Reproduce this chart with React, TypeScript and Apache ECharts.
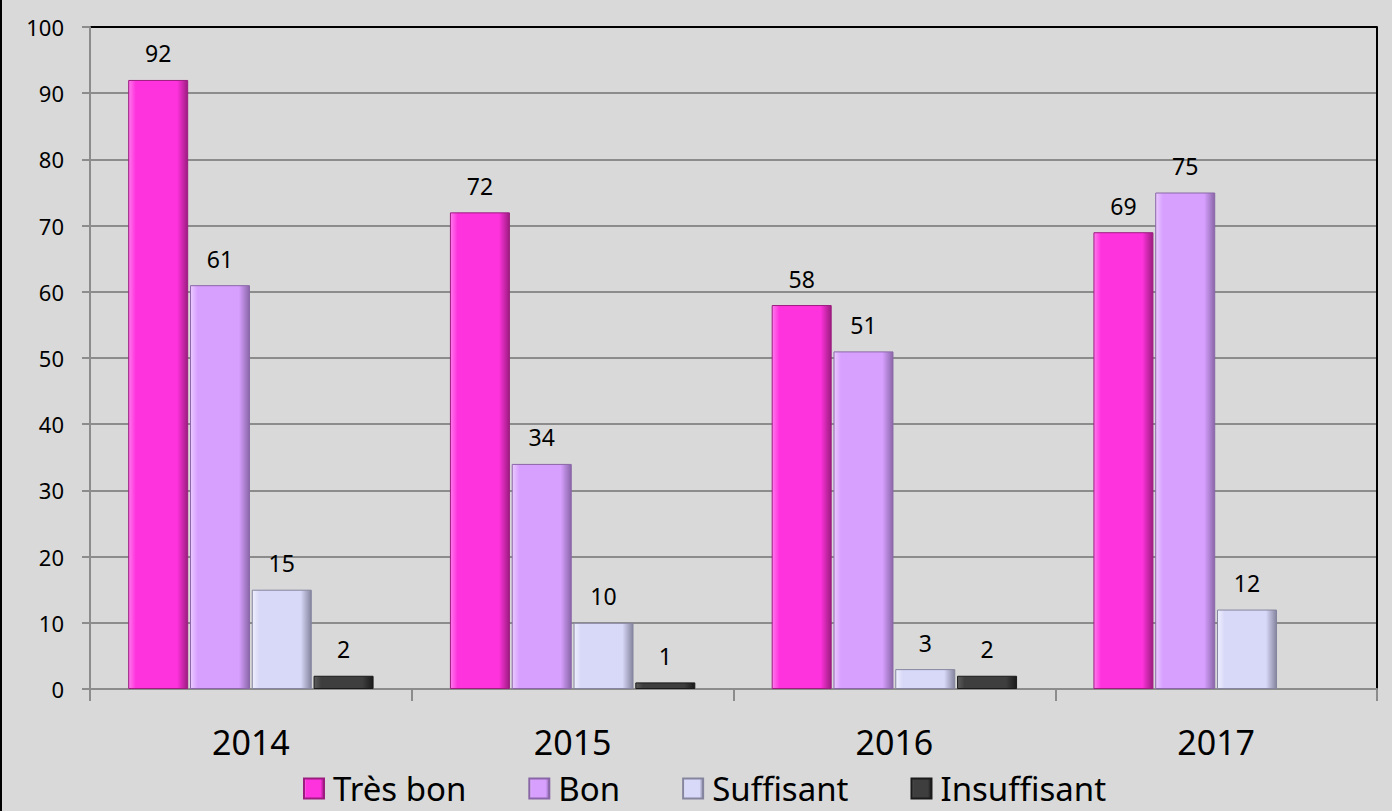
import React, { useEffect, useRef } from "react";
import * as echarts from "echarts";

const categories = ["2014", "2015", "2016", "2017"];
const seriesNames = ["Très bon", "Bon", "Suffisant", "Insuffisant"];
const tresBon = [92, 72, 58, 69];
const bon = [61, 34, 51, 75];
const suffisant = [15, 10, 3, 12];
const insuffisant: (number | null)[] = [2, 1, 2, null];
const yTicks = [0, 10, 20, 30, 40, 50, 60, 70, 80, 90, 100];

const palette = [
  { light: "#ff7aec", main: "#ff33dd", dark: "#9c1c80" },
  { light: "#ebcbff", main: "#d7a0ff", dark: "#8a66a8" },
  { light: "#f0f0ff", main: "#d8d8f8", dark: "#85859f" },
  { light: "#5c5c5c", main: "#3e3e3e", dark: "#1a1a1a" },
];

const FONT = "'Noto Sans', 'DejaVu Sans', sans-serif";

function grad(i: number) {
  const p = palette[i];
  return new echarts.graphic.LinearGradient(0, 0, 1, 0, [
    { offset: 0, color: p.light },
    { offset: 0.12, color: p.main },
    { offset: 0.82, color: p.main },
    { offset: 1, color: p.dark },
  ]);
}

export default function App() {
  const ref = useRef<HTMLDivElement>(null);
  useEffect(() => {
    document.body.style.margin = "0";
    if (!ref.current) return;
    const chart = echarts.init(ref.current, undefined, { renderer: "svg" });
    const datas = [tresBon, bon, suffisant, insuffisant];
    const gridColors = yTicks.map((t, i) => (i === yTicks.length - 1 ? "#000000" : "#8c8c8c"));
    chart.setOption({
      animation: false,
      backgroundColor: "#d9d9d9",
      textStyle: { fontFamily: FONT },
      grid: { left: 90, right: 15, top: 27, bottom: 122, containLabel: false },
      legend: {
        data: seriesNames,
        left: 298,
        top: 767,
        icon: "rect",
        itemWidth: 20,
        itemHeight: 20,
        itemGap: 62,
        textStyle: {
          fontSize: 33,
          lineHeight: 33,
          color: "#000",
          fontFamily: FONT,
          padding: [0, 0, 0, 4],
        },
      },
      xAxis: {
        type: "category",
        data: categories,
        axisLine: { show: true, lineStyle: { color: "#8c8c8c", width: 2 } },
        axisTick: { show: true, length: 12, lineStyle: { color: "#8c8c8c", width: 2 } },
        axisLabel: { fontSize: 34, color: "#000", margin: 36, fontFamily: FONT },
        splitLine: { show: false },
      },
      yAxis: [
        {
          type: "value",
          min: 0,
          max: 100,
          interval: 10,
          axisLine: { show: true, lineStyle: { color: "#8c8c8c", width: 2 } },
          axisTick: { show: true, length: 8, lineStyle: { color: "#8c8c8c", width: 2 } },
          axisLabel: { fontSize: 22, color: "#000", margin: 26, fontFamily: FONT },
          splitLine: { show: true, lineStyle: { color: gridColors, width: 2 } },
        },
        {
          type: "value",
          position: "right",
          min: 0,
          max: 100,
          interval: 10,
          axisLine: { show: true, lineStyle: { color: "#000", width: 2 } },
          axisTick: { show: false },
          axisLabel: { show: false },
          splitLine: { show: false },
        },
      ],
      series: seriesNames.map((name, i) => ({
        name,
        type: "bar",
        data: datas[i],
        barWidth: 60,
        barGap: "3%",
        itemStyle: { color: grad(i), borderColor: palette[i].dark, borderWidth: 1 },
        label: {
          show: true,
          position: "top",
          distance: 15,
          fontSize: 23,
          color: "#000",
          fontFamily: FONT,
        },
      })),
    });
    return () => chart.dispose();
  }, []);
  return (
    <div style={{ width: 1392, height: 811, position: "relative", background: "#d9d9d9" }}>
      <div ref={ref} style={{ width: 1392, height: 811 }} />
      <div style={{ position: "absolute", left: 0, top: 0, width: 2, height: 811, background: "#000" }} />
    </div>
  );
}
